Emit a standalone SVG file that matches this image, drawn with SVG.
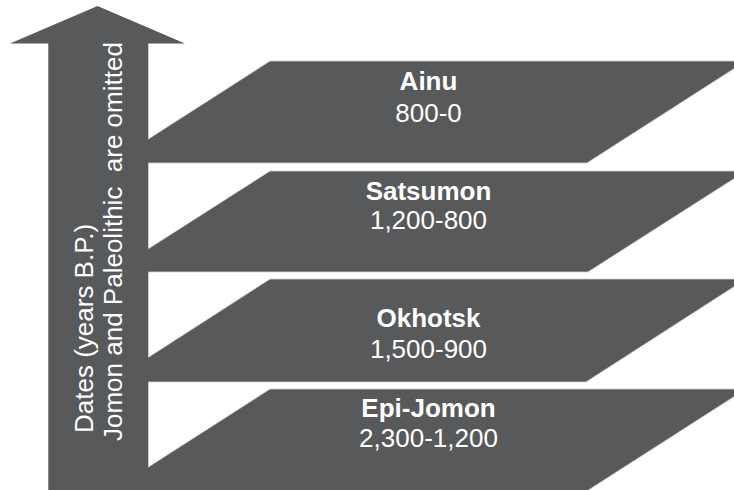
<svg xmlns="http://www.w3.org/2000/svg" width="734" height="490" viewBox="0 0 734 490">
<style>
.band{fill:#58595b;stroke:#d4d4d4;stroke-width:0.8}
.arrow{fill:#58595b}
.t{font-family:"Liberation Sans",Arial,sans-serif;font-size:26px;fill:#ffffff;text-anchor:middle}
.b{font-weight:bold}
.ax{font-family:"Liberation Sans",Arial,sans-serif;font-size:26px;fill:#ffffff}
</style>
<rect width="734" height="490" fill="#ffffff"/>
<g id="ainu">
<polygon class="band" points="270,61 746,61 587,163 111,163"/>
<text class="t b" x="428.5" y="90">Ainu</text>
<text class="t" x="428.5" y="121.5">800-0</text>
</g>
<g id="satsumon">
<polygon class="band" points="270,171 746,171 588,272 112,272"/>
<text class="t b" x="428.5" y="200">Satsumon</text>
<text class="t" x="428.5" y="228.5">1,200-800</text>
</g>
<g id="okhotsk">
<polygon class="band" points="270,279 746,279 586,382 110,382"/>
<text class="t b" x="428.5" y="327">Okhotsk</text>
<text class="t" x="428.5" y="358">1,500-900</text>
</g>
<g id="epi-jomon">
<polygon class="band" points="270,389 746,389 587,491 111,491"/>
<text class="t b" x="428.5" y="417">Epi-Jomon</text>
<text class="t" x="428.5" y="447">2,300-1,200</text>
</g>
<g id="connectors"></g>
<g id="axis">
<polygon class="arrow" points="97.5,6 185,43.5 148.3,43.5 148.3,491 48.3,491 48.3,43.5 10,43.5"/>
<text class="ax" transform="rotate(-90)" x="-433" y="93">Dates (years B.P.)</text>
<text class="ax" transform="rotate(-90)" x="-441" y="121.5" xml:space="preserve">Jomon and Paleolithic  are omitted</text>
</g>
</svg>
